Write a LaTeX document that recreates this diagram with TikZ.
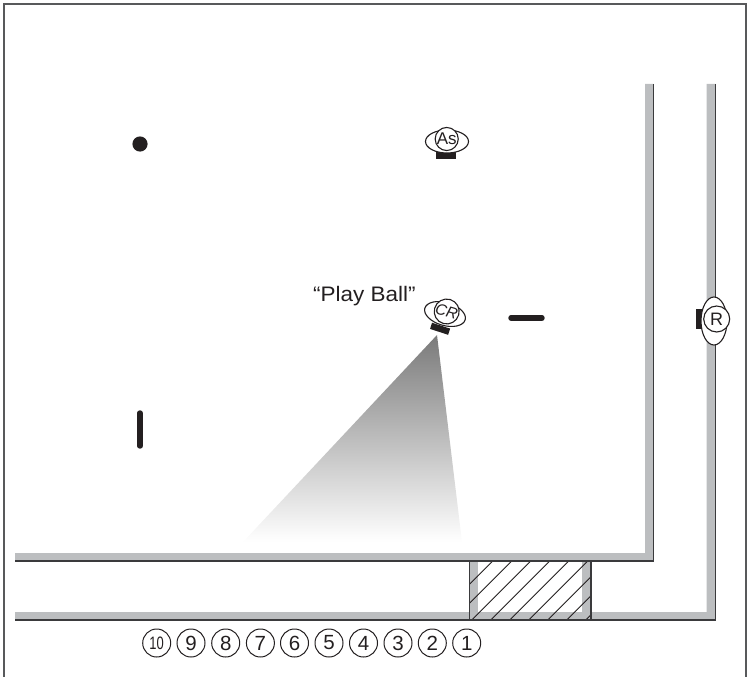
\documentclass[tikz,border=0pt]{standalone}
\usepackage{fontspec}
\setmainfont{Liberation Sans}
\usetikzlibrary{shapes.geometric}
\definecolor{wallgray}{HTML}{BCBEC0}
\definecolor{wallline}{HTML}{3A3A3C}
\definecolor{inkk}{HTML}{231F20}
\definecolor{framec}{HTML}{58595B}
\tikzset{
  wall/.style={fill=wallgray,draw=none},
  walledge/.style={draw=wallline,line width=1.2pt},
  bar/.style={draw=inkk,line width=5.4pt,line cap=round},
  padrect/.style={fill=inkk,draw=none},
  bodyshape/.style={ellipse,draw=inkk,fill=white,line width=1.1pt,inner sep=0pt},
  headshape/.style={circle,draw=inkk,fill=white,line width=1.1pt,inner sep=0pt,text=inkk},
  numc/.style={circle,draw=inkk,line width=1pt,minimum size=28pt,inner sep=0pt,text=inkk,font=\fontsize{20.5}{20.5}\selectfont},
  hatchline/.style={draw=inkk,line width=0.9pt}
}
\begin{document}
\begin{tikzpicture}[x=1pt,y=-1pt]
\useasboundingbox (0,0) rectangle (747,677);
% frame
\draw[framec,line width=2pt] (4,677) -- (4,4) -- (746,4) -- (746,677);
% inner wall
\fill[wall] (15,553) -- (645,553) -- (645,84) -- (653.5,84) -- (653.5,561) -- (15,561) -- cycle;
\draw[walledge] (15,561) -- (653.5,561) -- (653.5,84);
% outer wall
\fill[wall] (15,612) -- (706.5,612) -- (706.5,84) -- (715.5,84) -- (715.5,620) -- (15,620) -- cycle;
\draw[walledge] (15,620) -- (715.5,620) -- (715.5,84);
% hatched box
\fill[white] (469.5,561) rectangle (591,620);
\fill[wall] (469.5,561) rectangle (478,620);
\fill[wall] (582,561) rectangle (591,620);
\fill[wall] (469.5,612) rectangle (591,620);
\begin{scope}
\clip (469.5,561) rectangle (591,620);
\foreach \k in {0,...,9}{
  \draw[hatchline] ({433.7+19*\k},620) -- ({492.7+19*\k},561);
}
\end{scope}
\draw[wallline,line width=1.2pt] (469.5,561) rectangle (591,620);
% beam
\shade[top color=black!52,bottom color=white] (437,335) -- (462,542) -- (243,542) -- cycle;
% dot and bars
\fill[inkk] (140,144) circle (7.6);
\draw[bar] (140,413) -- (140,446);
\draw[bar] (511,318) -- (542,318);
% As
\fill[padrect] (436,152) rectangle (456,159);
\node[bodyshape,minimum width=43pt,minimum height=23pt] (asbody) at (447,141.5) {};
\node[headshape,minimum size=23pt,font=\fontsize{17}{17}\selectfont] (ashead) at (446.7,139) {As};
% CR
\fill[padrect,rotate around={-18:(440,329)}] (430.5,325.5) rectangle (449.5,332);
\node[bodyshape,minimum width=42pt,minimum height=23pt,rotate=-16] (crbody) at (445,314) {};
\node[headshape,minimum size=23pt,rotate=-16,font=\itshape\fontsize{15.5}{15.5}\selectfont] (crhead) at (446.7,311.5) {CR};
% R
\fill[padrect] (696,309) rectangle (701.5,329);
\node[bodyshape,minimum width=26pt,minimum height=48pt] (rbody) at (714,321) {};
\node[headshape,minimum size=26pt,font=\fontsize{18}{18}\selectfont] (rhead) at (716.7,319) {R};
% label
\node[inner sep=0pt,anchor=base west,xscale=1.07,text=inkk,font=\fontsize{21}{21}\selectfont] (playball) at (313,301) {“Play Ball”};
% numbers
\node[numc,font=\fontsize{18}{18}\selectfont] (n10) at (156.7,643) {\scalebox{0.72}[1]{10}};
\node[numc] (n9) at (191,643) {9};
\node[numc] (n8) at (225.7,643) {8};
\node[numc] (n7) at (260.4,643) {7};
\node[numc] (n6) at (294.5,643) {6};
\node[numc] (n5) at (329,643) {5};
\node[numc] (n4) at (363.5,643) {4};
\node[numc] (n3) at (398,643) {3};
\node[numc] (n2) at (432.3,643) {2};
\node[numc] (n1) at (466.7,643) {1};
\end{tikzpicture}
\end{document}
